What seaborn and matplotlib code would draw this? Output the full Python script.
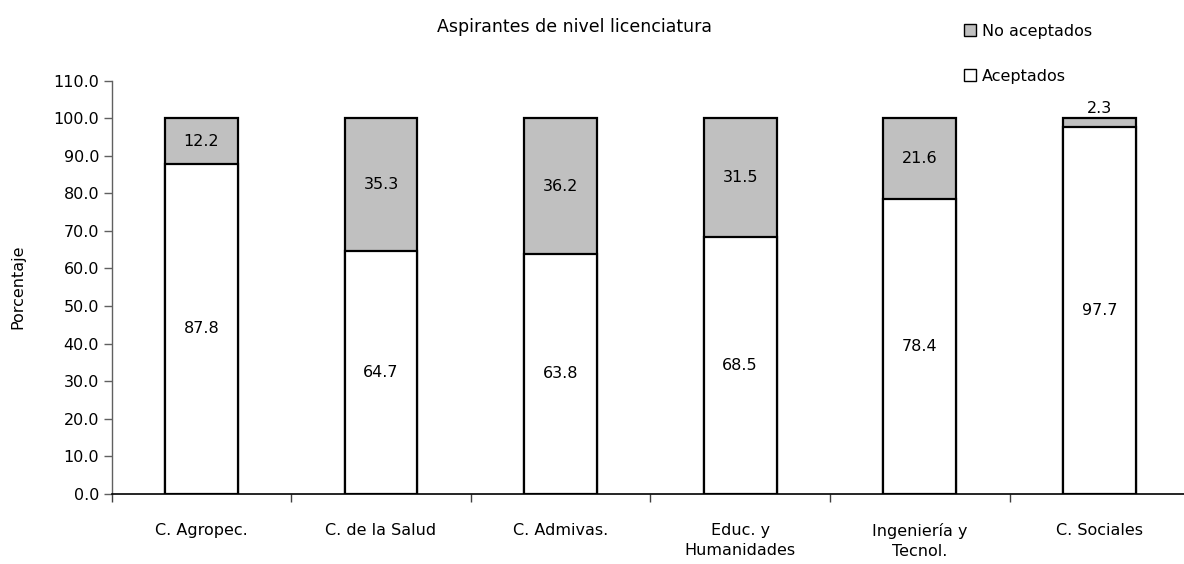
import numpy as np
import pandas as pd
import matplotlib
matplotlib.use("Agg")
import matplotlib.pyplot as plt
import seaborn as sns
from matplotlib.lines import Line2D

# data
categorias = ["C. Agropec.", "C. de la Salud", "C. Admivas.",
              "Educ. y\nHumanidades", "Ingeniería y\nTecnol.", "C. Sociales"]
aceptados = [87.8, 64.7, 63.8, 68.5, 78.4, 97.7]
no_aceptados = [12.2, 35.3, 36.2, 31.5, 21.6, 2.3]

df = pd.DataFrame({"Area": categorias, "Aceptados": aceptados,
                   "No aceptados": no_aceptados})
df["Total"] = df["Aceptados"] + df["No aceptados"]

sns.set_theme(style="white")
plt.rcParams["font.family"] = ["DejaVu Sans"]
plt.rcParams["text.color"] = "black"
plt.rcParams["axes.labelcolor"] = "black"
plt.rcParams["xtick.color"] = "black"
plt.rcParams["ytick.color"] = "black"

fig = plt.figure(figsize=(11.84, 5.64), dpi=100)
ax = fig.add_axes([0.0943, 0.1246, 0.910, 0.7323])

gris = "#c0c0c0"
# stacked bars: full height in gray, accepted part drawn on top in white
sns.barplot(data=df, x="Area", y="Total", color=gris, width=0.406,
            edgecolor="black", linewidth=1.6, ax=ax, saturation=1)
sns.barplot(data=df, x="Area", y="Aceptados", color="white", width=0.406,
            edgecolor="black", linewidth=1.6, ax=ax, saturation=1)

fs = 11.5
for i, row in df.iterrows():
    ax.text(i, row["Aceptados"] / 2, f"{row['Aceptados']:.1f}",
            ha="center", va="center", fontsize=fs)
    if row["No aceptados"] < 5:
        ax.text(i, row["Total"] + 0.5, f"{row['No aceptados']:.1f}",
                ha="center", va="bottom", fontsize=fs)
    else:
        ax.text(i, row["Aceptados"] + row["No aceptados"] / 2,
                f"{row['No aceptados']:.1f}", ha="center", va="center",
                fontsize=fs)

ax.set_ylim(0, 110)
ax.set_xlim(-0.5, len(categorias) - 0.5)
ax.set_yticks(np.arange(0, 111, 10))
ax.set_yticklabels([f"{v:.1f}" for v in np.arange(0, 111, 10)], fontsize=fs)
ax.set_xticks(range(len(categorias)))
ax.set_xticklabels(categorias, fontsize=fs, linespacing=1.45)
ax.set_xticks(np.arange(-0.5, len(categorias), 1), minor=True)
ax.tick_params(axis="x", which="major", length=0, pad=21)
ax.tick_params(axis="x", which="minor", length=6, width=1, color="#404040",
               direction="out", bottom=True)
ax.tick_params(axis="y", length=6, width=1, color="#606060", direction="out",
               left=True, pad=3)
ax.set_xlabel("")
ax.set_ylabel("Porcentaje", fontsize=fs, labelpad=20)

for s in ["top", "right"]:
    ax.spines[s].set_visible(False)
ax.spines["left"].set_color("#606060")
ax.spines["bottom"].set_color("black")
ax.spines["left"].set_linewidth(1)
ax.spines["bottom"].set_linewidth(1.2)

fig.text(0.485, 0.952, "Aspirantes de nivel licenciatura", ha="center",
         va="center", fontsize=12.5)

handles = [Line2D([], [], marker="s", linestyle="", markersize=8,
                  markerfacecolor=gris, markeredgecolor="black"),
           Line2D([], [], marker="s", linestyle="", markersize=8,
                  markerfacecolor="white", markeredgecolor="black")]
fig.legend(handles, ["No aceptados", "Aceptados"], loc="upper left",
           bbox_to_anchor=(0.8, 0.983), frameon=False, fontsize=fs,
           labelspacing=1.85, handletextpad=0.3, handlelength=1.0)

fig.savefig("out.png", dpi=100)
